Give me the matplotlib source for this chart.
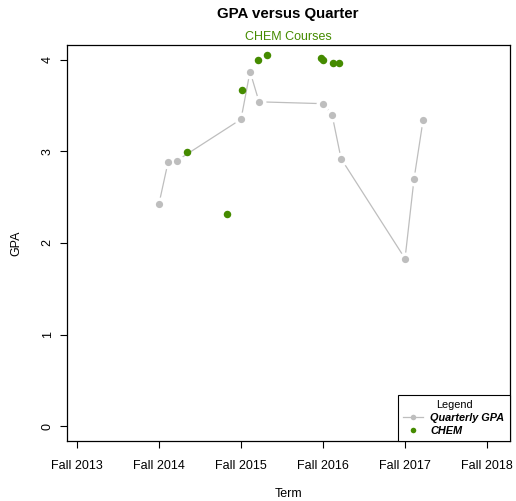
import matplotlib
matplotlib.use('Agg')
import matplotlib.pyplot as plt
from matplotlib.lines import Line2D

plt.rcParams['font.family'] = ['Liberation Sans', 'DejaVu Sans']

# terms, as years after Fall 2013
term_labels = ['Fall 2013', 'Fall 2014', 'Fall 2015', 'Fall 2016', 'Fall 2017', 'Fall 2018']
term_ticks = [0, 1, 2, 3, 4, 5]

# quarterly GPA
quarter_pos = [1.0, 1.11, 1.22, 2.0, 2.11, 2.22, 3.0, 3.11, 3.22, 4.0, 4.11, 4.22]
quarter_gpa = [2.43, 2.88, 2.90, 3.35, 3.87, 3.54, 3.52, 3.40, 2.92, 1.83, 2.70, 3.34]

# CHEM course grades
chem_pos = [1.34, 1.83, 2.01, 2.21, 2.32, 2.98, 2.995, 3.12, 3.19]
chem_gpa = [2.99, 2.32, 3.67, 4.00, 4.05, 4.02, 4.00, 3.96, 3.96]

gray = '#BEBEBE'
green = '#458B00'

fig = plt.figure(figsize=(5.16, 5.01), dpi=100)
ax = fig.add_axes([67/516, 60/501, 443/516, 396/501])

# line with gaps around the points (like type="b")
ax.plot(quarter_pos, quarter_gpa, color=gray, lw=0.9, zorder=1)
ax.plot(quarter_pos, quarter_gpa, 'o', color='white', ms=10, mew=0, zorder=2)
ax.plot(quarter_pos, quarter_gpa, 'o', color=gray, ms=5.2, mew=0, zorder=3)
ax.plot(chem_pos, chem_gpa, 'o', color=green, ms=5.4, mew=0, zorder=4)

ax.set_xlim(-0.122, 5.28)
ax.set_ylim(-0.16, 4.16)
ax.set_xticks(term_ticks)
ax.set_xticklabels(term_labels)
ax.set_yticks([0, 1, 2, 3, 4])
ax.set_yticklabels(['0', '1', '2', '3', '4'], rotation=90, va='center')
ax.tick_params(direction='out', length=5, width=0.8, labelsize=9)
ax.tick_params(axis='x', pad=9)
ax.tick_params(axis='y', pad=4.5)
for s in ax.spines.values():
    s.set_linewidth(0.9)

ax.set_xlabel('Term', fontsize=9, labelpad=11)
ax.set_ylabel('GPA', fontsize=9, labelpad=14)
fig.text(288/516, 1 - 14/501, 'GPA versus Quarter', fontsize=10.8, fontweight='bold',
         ha='center', va='center')
fig.text(288/516, 1 - 37/501, 'CHEM Courses', fontsize=9, color=green,
         ha='center', va='center')

handles = [Line2D([], [], color=gray, lw=0.9, marker='o', ms=4, mew=0),
           Line2D([], [], color=green, lw=0, marker='o', ms=4, mew=0)]
leg = ax.legend(handles, ['Quarterly GPA', 'CHEM'], title='Legend', loc='lower right',
                borderaxespad=0, fancybox=False, edgecolor='black', framealpha=1,
                handlelength=1.8, handletextpad=0.7, labelspacing=0.25,
                borderpad=0.5, prop={'size': 7.8, 'weight': 'bold', 'style': 'italic'},
                title_fontsize=7.8)
leg.get_frame().set_linewidth(0.8)

fig.savefig('out.png', dpi=100)
